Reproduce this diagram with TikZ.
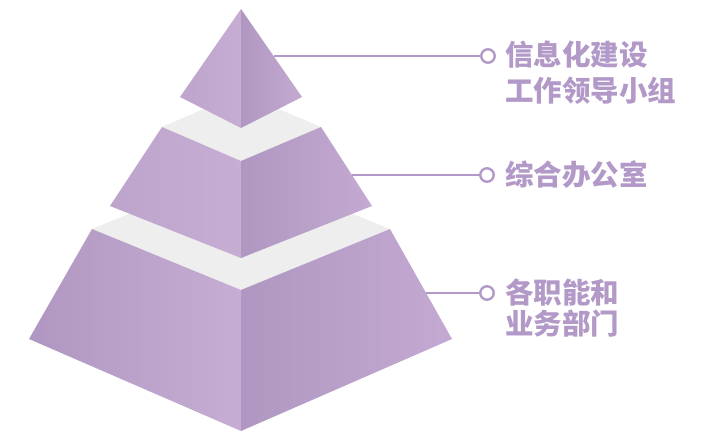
\documentclass[tikz,border=0pt]{standalone}
\usepackage{fontspec}
\newfontfamily\cjk{Noto Sans CJK SC}
\usepackage{tikz}
\usetikzlibrary{positioning}
\definecolor{pyrDark}{RGB}{175,151,193}
\definecolor{pyrLight}{RGB}{198,173,211}
\definecolor{pyrSoft}{RGB}{196,170,210}
\definecolor{pyrGray}{RGB}{238,238,238}
\definecolor{leadColor}{RGB}{178,153,200}
\tikzset{Left face/.style={left color=pyrDark, right color=pyrLight}} % cara izquierda, oscura hacia fuera
\tikzset{Right face/.style={left color=pyrDark, right color=pyrSoft}} % cara derecha, oscura en el centro
\tikzset{Top face/.style={fill=pyrGray}}
\tikzset{
	Link style/.style={draw=leadColor, line width=2.6pt}, % linea hacia la etiqueta
	Dot style/.style={circle, draw=leadColor, line width=2.4pt, fill=white, minimum size=13.5pt, inner sep=0pt},
	Label style/.style={text=leadColor, font=\cjk\bfseries\fontsize{28.5}{28.5}\selectfont, inner sep=0pt, anchor=west},
}

\begin{document}
\begin{tikzpicture}[x=1pt, y=-1pt]
        \useasboundingbox (0,0) rectangle (713,433);

        % nivel inferior
        \coordinate (botTL) at (92,229);
        \coordinate (botTB) at (241,168);
        \coordinate (botTR) at (390,229);
        \coordinate (botTF) at (241,290);
        \coordinate (botBL) at (29,339);
        \coordinate (botBR) at (452,339);
        \coordinate (botBF) at (241,431);
        \fill[Top face] (botTL) -- (botTB) -- (botTR) -- (botTF) -- cycle;
        \path[Left face] (botTL) -- (botTF) -- (botBF) -- (botBL) -- cycle;
        \path[Right face] (botTF) -- (botTR) -- (botBR) -- (botBF) -- cycle;

        % nivel medio
        \coordinate (midTL) at (162,127);
        \coordinate (midTB) at (241,93);
        \coordinate (midTR) at (321,127);
        \coordinate (midTF) at (241,161);
        \coordinate (midBL) at (110,206);
        \coordinate (midBR) at (372,206);
        \coordinate (midBF) at (241,258);
        \fill[Top face] (midTL) -- (midTB) -- (midTR) -- (midTF) -- cycle;
        \path[Left face, left color=pyrDark!40!pyrLight] (midTL) -- (midTF) -- (midBF) -- (midBL) -- cycle;
        \path[Right face] (midTF) -- (midTR) -- (midBR) -- (midBF) -- cycle;

        % punta
        \coordinate (topA) at (241,9);
        \coordinate (topL) at (180,97);
        \coordinate (topR) at (302,97);
        \coordinate (topF) at (241,128);
        \path[Left face, left color=pyrDark!40!pyrLight] (topA) -- (topF) -- (topL) -- cycle;
        \path[Right face] (topA) -- (topR) -- (topF) -- cycle;

        % etiquetas
        \node[Dot style] (dotLead) at (488,56) {};
        \node[Dot style] (dotOffice) at (487,175) {};
        \node[Dot style] (dotDept) at (487,293) {};
        \node[Label style] (lead1) at (505,55) {信息化建设};
        \node[Label style, below right=8pt and 0pt of lead1.south west] (lead2) {工作领导小组};
        \node[Label style] (office) at (505,175) {综合办公室};
        \node[Label style] (dept1) at (505,292) {各职能和};
        \node[Label style, below right=4pt and 0pt of dept1.south west] (dept2) {业务部门};

        \coordinate (leadEnd) at (274,56);
        \coordinate (officeEnd) at (352,175);
        \coordinate (deptEnd) at (426,293);
        \draw[Link style] (leadEnd) -- (dotLead);
        \draw[Link style] (officeEnd) -- (dotOffice);
        \draw[Link style] (deptEnd) -- (dotDept);
\end{tikzpicture}
\end{document}
